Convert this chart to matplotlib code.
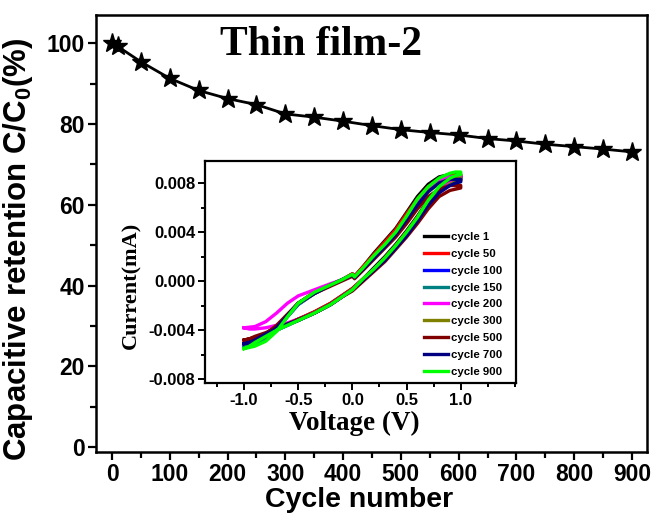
import matplotlib
matplotlib.use("Agg")
import matplotlib.pyplot as plt
from matplotlib.ticker import MultipleLocator, FixedLocator, FormatStrFormatter

plt.rcParams['font.family'] = ['Liberation Sans', 'DejaVu Sans']
plt.rcParams['font.weight'] = 'bold'
plt.rcParams['axes.unicode_minus'] = False
plt.rcParams['mathtext.fontset'] = 'custom'
plt.rcParams['mathtext.rm'] = 'Liberation Sans:bold'
plt.rcParams['mathtext.bf'] = 'Liberation Sans:bold'

# main plot: capacitance retention vs cycle number
cycles = [0, 10, 50, 100, 150, 200, 250, 300, 350, 400, 450, 500,
          550, 600, 650, 700, 750, 800, 850, 900]
retention = [100.0, 99.2, 95.4, 91.3, 88.3, 86.3, 84.8, 82.5, 81.7, 80.7,
             79.6, 78.6, 77.9, 77.3, 76.4, 75.8, 75.0, 74.4, 73.8, 73.1]

# inset: CV loops (forward scan -1 -> 1 V, reverse scan 1 -> -1 V)
v_fwd = [-1.0, -0.9, -0.8, -0.7, -0.6, -0.5, -0.35, -0.2, -0.1, 0.0, 0.02,
         0.1, 0.2, 0.3, 0.4, 0.5, 0.6, 0.7, 0.8, 0.9, 0.95, 1.0]
v_rev = [1.0, 0.95, 0.9, 0.8, 0.7, 0.6, 0.5, 0.4, 0.3, 0.2, 0.1, 0.0,
         -0.1, -0.2, -0.35, -0.5, -0.6, -0.7, -0.8, -0.9, -0.95, -1.0]

cv_labels = ['cycle 1', 'cycle 50', 'cycle 100', 'cycle 150', 'cycle 200',
             'cycle 300', 'cycle 500', 'cycle 700', 'cycle 900']
cv_colors = ['#000000', '#ff0000', '#0000ff', '#008080', '#ff00ff',
             '#808000', '#800000', '#000080', '#00ff00']

i_fwd = [
    # cycle 1
    [-0.0052, -0.0050, -0.0046, -0.0039, -0.0028, -0.0018, -0.0009, -0.0003, 0.0001, 0.0006, 0.0004,
     0.0012, 0.0023, 0.0033, 0.0043, 0.0056, 0.0069, 0.0079, 0.0085, 0.0087, 0.0087, 0.0087],
    # cycle 50
    [-0.0052, -0.0050, -0.0046, -0.0039, -0.0028, -0.0018, -0.0009, -0.0003, 0.0001, 0.0006, 0.0004,
     0.0012, 0.0022, 0.0032, 0.0042, 0.0055, 0.0067, 0.0077, 0.0083, 0.0086, 0.0086, 0.0086],
    # cycle 100
    [-0.0053, -0.0051, -0.0047, -0.0040, -0.0029, -0.0019, -0.0010, -0.0003, 0.0001, 0.0005, 0.0003,
     0.0010, 0.0020, 0.0029, 0.0039, 0.0051, 0.0064, 0.0075, 0.0082, 0.0085, 0.0085, 0.0085],
    # cycle 150
    [-0.0053, -0.0051, -0.0047, -0.0040, -0.0029, -0.0019, -0.0010, -0.0003, 0.0001, 0.0005, 0.0003,
     0.0010, 0.0020, 0.0029, 0.0039, 0.0051, 0.0064, 0.0075, 0.0082, 0.0085, 0.0085, 0.0085],
    # cycle 200
    [-0.0038, -0.0037, -0.0033, -0.0026, -0.0018, -0.0012, -0.0007, -0.0002, 0.0001, 0.0005, 0.0003,
     0.0010, 0.0020, 0.0029, 0.0039, 0.0051, 0.0064, 0.0075, 0.0082, 0.0085, 0.0085, 0.0085],
    # cycle 300
    [-0.0051, -0.0049, -0.0045, -0.0038, -0.0028, -0.0018, -0.0010, -0.0003, 0.0001, 0.0005, 0.0003,
     0.0010, 0.0019, 0.0028, 0.0038, 0.0050, 0.0062, 0.0073, 0.0080, 0.0083, 0.0084, 0.0084],
    # cycle 500
    [-0.0048, -0.0046, -0.0043, -0.0036, -0.0027, -0.0018, -0.0010, -0.0004, 0.0000, 0.0004, 0.0002,
     0.0009, 0.0018, 0.0027, 0.0036, 0.0047, 0.0059, 0.0069, 0.0075, 0.0078, 0.0078, 0.0078],
    # cycle 700
    [-0.0051, -0.0049, -0.0045, -0.0038, -0.0028, -0.0018, -0.0010, -0.0003, 0.0001, 0.0005, 0.0003,
     0.0010, 0.0019, 0.0028, 0.0038, 0.0050, 0.0062, 0.0073, 0.0080, 0.0083, 0.0083, 0.0083],
    # cycle 900
    [-0.0055, -0.0053, -0.0049, -0.0041, -0.0029, -0.0018, -0.0009, -0.0003, 0.0001, 0.00056, 0.00035,
     0.0011, 0.0021, 0.0030, 0.0040, 0.0053, 0.0067, 0.0077, 0.0084, 0.0088, 0.0089, 0.0089],
]
i_rev = [
    # cycle 1
    [0.0085, 0.0084, 0.0082, 0.0076, 0.0066, 0.0053, 0.0041, 0.0030, 0.0020, 0.0011, 0.0002, -0.0006,
     -0.0012, -0.0018, -0.0025, -0.0031, -0.0035, -0.0039, -0.0043, -0.0048, -0.0050, -0.0052],
    # cycle 50
    [0.0084, 0.0083, 0.0081, 0.0075, 0.0065, 0.0052, 0.0040, 0.0029, 0.0019, 0.0010, 0.0002, -0.0006,
     -0.0012, -0.0018, -0.0025, -0.0031, -0.0035, -0.0039, -0.0043, -0.0048, -0.0050, -0.0052],
    # cycle 100
    [0.0083, 0.0082, 0.0080, 0.0074, 0.0064, 0.0051, 0.0039, 0.0028, 0.0018, 0.0010, 0.0001, -0.0007,
     -0.0013, -0.0019, -0.0026, -0.0032, -0.0036, -0.0040, -0.0045, -0.0049, -0.0051, -0.0053],
    # cycle 150
    [0.0083, 0.0082, 0.0080, 0.0074, 0.0064, 0.0051, 0.0039, 0.0028, 0.0018, 0.0010, 0.0001, -0.0007,
     -0.0013, -0.0019, -0.0026, -0.0032, -0.0036, -0.0040, -0.0045, -0.0049, -0.0051, -0.0053],
    # cycle 200
    [0.0083, 0.0082, 0.0080, 0.0074, 0.0064, 0.0051, 0.0039, 0.0028, 0.0018, 0.0010, 0.0001, -0.0007,
     -0.0013, -0.0019, -0.0026, -0.0031, -0.0034, -0.0036, -0.0038, -0.0039, -0.0039, -0.0038],
    # cycle 300
    [0.0082, 0.0081, 0.0079, 0.0073, 0.0063, 0.0050, 0.0038, 0.0027, 0.0017, 0.0009, 0.0001, -0.0007,
     -0.0013, -0.0019, -0.0026, -0.0032, -0.0035, -0.0039, -0.0043, -0.0048, -0.0050, -0.0051],
    # cycle 500
    [0.0076, 0.0075, 0.0074, 0.0069, 0.0059, 0.0047, 0.0036, 0.0026, 0.0016, 0.0008, 0.0000, -0.0008,
     -0.0013, -0.0019, -0.0026, -0.0031, -0.0035, -0.0038, -0.0042, -0.0045, -0.0047, -0.0048],
    # cycle 700
    [0.0081, 0.0080, 0.0078, 0.0072, 0.0062, 0.0049, 0.0037, 0.0027, 0.0017, 0.0009, 0.0001, -0.0007,
     -0.0013, -0.0019, -0.0026, -0.0032, -0.0035, -0.0039, -0.0043, -0.0048, -0.0050, -0.0051],
    # cycle 900
    [0.0087, 0.0086, 0.0084, 0.0077, 0.0066, 0.0052, 0.0040, 0.0029, 0.0019, 0.0010, 0.0002, -0.0007,
     -0.0013, -0.0019, -0.0026, -0.0032, -0.0036, -0.0040, -0.0045, -0.0050, -0.0053, -0.0055],
]

fig = plt.figure(figsize=(6.54, 5.16), dpi=100)
ax = fig.add_axes([0.1468, 0.124, 0.8425, 0.847])

ax.plot(cycles, retention, color='black', lw=2.0, marker='*', ms=14)
ax.set_xlim(-27.7, 926)
ax.set_ylim(-1.2, 107)
ax.xaxis.set_major_locator(MultipleLocator(100))
ax.xaxis.set_minor_locator(MultipleLocator(50))
ax.yaxis.set_major_locator(MultipleLocator(20))
ax.yaxis.set_minor_locator(MultipleLocator(10))
ax.tick_params(which='both', direction='out', width=1.6, labelsize=16.5, pad=2)
ax.tick_params(which='major', length=6)
ax.tick_params(which='minor', length=4)
for s in ax.spines.values():
    s.set_linewidth(1.8)
ax.set_xlabel('Cycle number', fontsize=20.5, fontweight='bold')
ax.set_ylabel(r'Capacitive retention C/C$_{0}$(%)', fontsize=22.5, fontweight='bold')
ax.xaxis.set_label_coords(0.477, -0.08)
ax.yaxis.set_label_coords(-0.11, 0.465)
ax.text(0.408, 0.931, 'Thin film-2', transform=ax.transAxes, ha='center', va='center',
        fontsize=30, fontweight='bold', family='Liberation Serif')

axin = fig.add_axes([0.3135, 0.2578, 0.4755, 0.4302])
for k in range(len(cv_labels)):
    axin.plot(v_fwd + v_rev, i_fwd[k] + i_rev[k], color=cv_colors[k], lw=2.4,
              label=cv_labels[k], solid_joinstyle='round')
axin.set_xlim(-1.36, 1.51)
axin.set_ylim(-0.0083, 0.0098)
axin.xaxis.set_major_locator(FixedLocator([-1.0, -0.5, 0.0, 0.5, 1.0]))
axin.xaxis.set_minor_locator(MultipleLocator(0.25))
axin.xaxis.set_major_formatter(FormatStrFormatter('%.1f'))
axin.yaxis.set_major_locator(MultipleLocator(0.004))
axin.yaxis.set_minor_locator(MultipleLocator(0.002))
axin.yaxis.set_major_formatter(FormatStrFormatter('%.3f'))
axin.tick_params(which='both', direction='out', width=1.4, labelsize=12, pad=2)
axin.tick_params(which='major', length=5)
axin.tick_params(which='minor', length=3)
for s in axin.spines.values():
    s.set_linewidth(1.6)
axin.set_xlabel('Voltage (V)', fontsize=19.5, fontweight='bold', family='Liberation Serif')
axin.set_ylabel('Current(mA)', fontsize=16, fontweight='bold', family='Liberation Serif')
axin.xaxis.set_label_coords(0.479, -0.125)
axin.yaxis.set_label_coords(-0.205, 0.44)
axin.legend(loc='upper left', bbox_to_anchor=(0.705, 0.68), frameon=False,
            fontsize=8.2, handlelength=2.1, handletextpad=0.25, labelspacing=0.6,
            borderpad=0, borderaxespad=0)
for line in axin.get_legend().get_lines():
    line.set_linewidth(2.4)

fig.savefig('out.png', dpi=100)
